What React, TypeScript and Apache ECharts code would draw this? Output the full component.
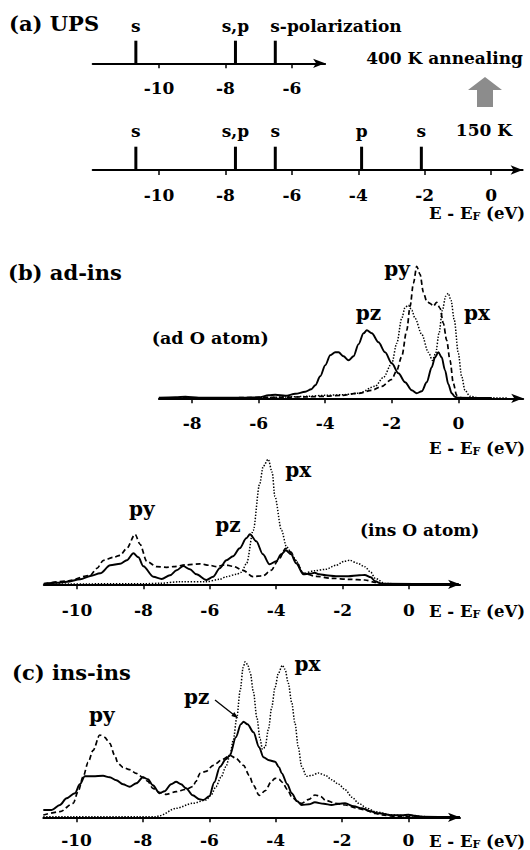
import React, { useEffect, useRef } from 'react';
import * as echarts from 'echarts';

const FONT = '"DejaVu Serif", serif';

// ---------- (a) UPS peak positions (eV) ----------
const upsAnnealE = [-10.7, -7.7, -6.5];
const upsAnnealLabels = ['s', 's,p', 's-polarization'];
const ups150E = [-10.7, -7.7, -6.5, -3.9, -2.1];
const ups150Labels = ['s', 's,p', 's', 'p', 's'];

// ---------- tick labels ----------
const upsTopTicks = [-10, -8, -6];
const upsBottomTicks = [-10, -8, -6, -4, -2, 0];
const adTicks = [-8, -6, -4, -2, 0];
const insTicks = [-10, -8, -6, -4, -2, 0];

// ---------- (b) ad-ins, ad O atom (E, DOS arb. units) ----------
const adPz: [number, number][] = [[-9,0.5],[-8.5,1],[-8.2,1.5],[-7.8,0.5],[-6.5,0.5],[-6,1],[-5.7,3],[-5.5,3.5],[-5.2,2.5],[-4.9,4.5],[-4.6,6.5],[-4.42,9],[-4.3,13],[-4.15,22],[-4.0,33],[-3.85,43],[-3.7,46],[-3.6,46],[-3.45,42],[-3.3,38],[-3.15,42],[-3.0,54],[-2.85,65],[-2.75,68],[-2.6,65],[-2.4,56],[-2.2,46],[-2.0,35],[-1.8,25],[-1.6,16],[-1.4,8],[-1.25,5],[-1.1,7],[-0.95,16],[-0.8,31],[-0.7,41],[-0.6,46],[-0.5,41],[-0.4,28],[-0.3,14],[-0.2,5],[-0.1,1.5],[0,0.5],[1,0.3]];
const adPy: [number, number][] = [[-9,0.5],[-7,0.5],[-5.5,1],[-4.5,1.5],[-4,2],[-3.5,3],[-3,5],[-2.6,8],[-2.3,12],[-2.0,19],[-1.85,28],[-1.7,42],[-1.55,68],[-1.45,92],[-1.35,115],[-1.25,132],[-1.15,124],[-1.05,106],[-0.95,97],[-0.85,95],[-0.75,92],[-0.65,96],[-0.55,90],[-0.45,75],[-0.35,58],[-0.25,38],[-0.15,15],[-0.05,3],[0.1,0.5],[1,0.3]];
const adPx: [number, number][] = [[-9,0.3],[-6,0.5],[-5,1.5],[-4.5,2],[-4,3],[-3.5,3.5],[-3,5],[-2.5,12],[-2.25,21],[-2.0,35],[-1.85,55],[-1.7,80],[-1.6,91],[-1.5,93],[-1.4,88],[-1.3,80],[-1.1,64],[-0.9,46],[-0.78,38],[-0.68,45],[-0.58,65],[-0.48,88],[-0.38,102],[-0.3,105],[-0.22,98],[-0.12,78],[0,45],[0.1,22],[0.2,8],[0.35,2],[0.6,0.5],[1.5,0.3]];

// ---------- (b) ad-ins, ins O atom ----------
const insPz: [number, number][] = [[-11,0.5],[-10.6,1.5],[-10.3,2.6],[-9.9,5],[-9.6,8.3],[-9.3,11],[-9.0,19],[-8.7,20.5],[-8.5,24],[-8.3,31],[-8.15,27],[-8.0,18],[-7.7,7.5],[-7.45,5.3],[-7.2,9],[-7.0,14],[-6.8,18.3],[-6.6,15],[-6.4,10],[-6.1,4.3],[-5.9,7.5],[-5.7,16],[-5.5,24],[-5.3,28],[-5.1,36],[-4.9,46],[-4.79,50],[-4.6,43],[-4.4,30],[-4.2,20],[-4.0,23],[-3.85,30],[-3.71,34],[-3.55,30],[-3.4,21],[-3.18,10],[-3.0,10.5],[-2.84,11.5],[-2.7,10],[-2.5,9],[-2.2,8],[-1.83,8],[-1.5,9],[-1.33,9.3],[-1.15,7],[-1.02,3],[-0.82,0.5],[1.5,0.3]];
const insPy: [number, number][] = [[-11,0.5],[-10.3,3.3],[-9.6,9],[-9.4,16],[-9.2,24],[-8.9,27],[-8.7,29],[-8.5,36],[-8.25,50],[-8.1,40],[-7.9,23],[-7.6,17.6],[-7.3,17],[-7.1,17.6],[-6.7,19.5],[-6.3,20.5],[-6.0,19],[-5.8,17.6],[-5.55,19.5],[-5.3,18],[-5.0,14],[-4.7,7.7],[-4.4,8.5],[-4.15,14],[-3.94,24],[-3.71,36],[-3.55,32],[-3.42,24],[-3.18,11],[-2.8,8],[-2.33,6],[-1.8,5],[-1.33,4.3],[-1.02,2],[-0.82,0.5],[1.5,0.3]];
const insPx: [number, number][] = [[-11,0.3],[-8,0.5],[-7.5,1],[-6.9,2.6],[-6.1,2.6],[-5.7,5],[-5.5,7.6],[-5.2,10],[-5.05,12],[-4.89,21],[-4.69,54],[-4.5,100],[-4.39,118],[-4.24,125],[-4.12,112],[-4.04,88],[-3.84,54],[-3.69,37.6],[-3.55,32],[-3.42,24],[-3.18,11],[-2.84,13.6],[-2.5,15],[-2.2,19],[-1.95,23],[-1.78,24],[-1.55,21],[-1.33,17.6],[-1.15,12],[-1.02,6],[-0.72,0.8],[-0.3,0.5],[1.5,0.3]];

// ---------- (c) ins-ins ----------
const cPz: [number, number][] = [[-11,7.3],[-10.75,7.3],[-10.5,12.3],[-10.3,19],[-10.05,24],[-9.9,33],[-9.75,41],[-9.5,41],[-9.2,41.5],[-9.0,40],[-8.8,37],[-8.6,33],[-8.4,30.6],[-8.2,34],[-8.0,40],[-7.85,38],[-7.7,32],[-7.5,24],[-7.35,26],[-7.15,33],[-7.0,35.6],[-6.85,33],[-6.7,29],[-6.5,22],[-6.3,18],[-6.18,17.3],[-6.0,21],[-5.85,35],[-5.68,50.6],[-5.5,58],[-5.38,62],[-5.2,80],[-5.05,93],[-4.97,95.6],[-4.85,93],[-4.67,85],[-4.5,70],[-4.37,60],[-4.2,57],[-4.02,55.6],[-3.9,50],[-3.82,44],[-3.65,33],[-3.52,24],[-3.35,16],[-3.22,12.3],[-3.0,13],[-2.82,15],[-2.55,13.5],[-2.32,12.3],[-2.1,13.5],[-1.91,14],[-1.65,11],[-1.4,9],[-1.15,6],[-0.9,4],[-0.5,2],[-0.2,2],[0,2.6],[0.2,1.5],[0.4,0.5],[1.55,0.3]];
const cPy: [number, number][] = [[-11,2.3],[-10.5,5.6],[-10.1,14],[-9.95,26],[-9.8,40.6],[-9.65,55],[-9.5,67],[-9.3,82.3],[-9.15,80],[-9.0,74],[-8.85,62],[-8.75,54],[-8.6,50],[-8.4,47.6],[-8.2,44],[-8.0,40],[-7.85,36],[-7.7,29],[-7.5,25],[-7.3,23],[-7.0,25.6],[-6.7,28],[-6.5,30.6],[-6.4,36],[-6.28,44],[-6.1,46],[-5.88,52],[-5.6,58],[-5.38,62],[-5.2,59],[-4.97,52],[-4.8,42],[-4.67,32],[-4.5,22],[-4.3,27],[-4.15,35],[-4.02,39],[-3.9,38],[-3.8,35],[-3.65,28],[-3.52,20.6],[-3.35,16],[-3.22,14],[-3.0,18],[-2.82,22.3],[-2.65,21],[-2.5,17],[-2.2,14],[-1.9,12.3],[-1.6,9.5],[-1.3,7.3],[-1.0,4],[-0.8,2.3],[-0.3,0.6],[1.55,0.3]];
const cPx: [number, number][] = [[-11,0.5],[-7.6,0.5],[-7.5,1.6],[-7.0,9],[-6.5,14],[-6.1,17.3],[-5.95,22],[-5.8,30.6],[-5.65,40],[-5.5,50.6],[-5.38,62],[-5.28,77],[-5.17,100],[-5.07,127],[-4.98,150],[-4.92,155.6],[-4.85,153],[-4.77,145],[-4.67,125],[-4.57,100],[-4.47,78],[-4.4,68],[-4.32,70],[-4.22,88],[-4.12,110],[-4.02,130],[-3.92,144],[-3.8,152],[-3.72,148],[-3.62,134],[-3.52,115],[-3.42,94],[-3.32,70],[-3.22,51],[-3.07,41],[-2.9,42],[-2.72,44.3],[-2.5,42],[-2.32,37.6],[-2.1,33],[-1.91,27.6],[-1.7,20],[-1.5,14],[-1.25,9],[-1.0,5.6],[-0.5,2.3],[0,1.3],[0.7,0.5],[1.55,0.3]];

const SOLID = { color: '#000', width: 1.9, type: 'solid' as const };
const DASHED = { color: '#000', width: 1.7, type: [5, 3] };
const DOTTED = { color: '#000', width: 1.5, type: [1.4, 1.6] };

function xAxis(gridIndex: number, min: number, max: number, ticks: number[], margin: number) {
  return {
    type: 'value', gridIndex, min, max,
    axisLine: { show: true, onZero: false, symbol: ['none', 'arrow'], symbolSize: [7, 12], lineStyle: { color: '#000', width: 2 } },
    axisTick: { show: true, customValues: ticks, length: 5, lineStyle: { color: '#000', width: 1.5 } },
    axisLabel: { show: true, customValues: ticks, margin, fontFamily: FONT, fontWeight: 'bold', fontSize: 17, lineHeight: 16, color: '#000', formatter: (v: number) => String(v) },
    splitLine: { show: false },
  };
}
function yAxis(gridIndex: number, max: number) {
  return { type: 'value', gridIndex, min: 0, max, show: false };
}
function curve(idx: number, data: [number, number][], ls: any) {
  return { type: 'line', xAxisIndex: idx, yAxisIndex: idx, data, showSymbol: false, symbol: 'none', smooth: 0.3, smoothMonotone: 'x', lineStyle: ls, silent: true };
}
function txt(text: string, x: number, y: number, size = 17, align = 'center') {
  return { type: 'text', x, y, silent: true, style: { text, fill: '#000', fontFamily: FONT, fontWeight: 'bold', fontSize: size, align, verticalAlign: 'middle' } };
}
function axisTitle(x: number, y: number) {
  return {
    type: 'text', x, y, silent: true,
    style: {
      text: '{a|E - E}{s|F}{a| (eV)}', align: 'right', verticalAlign: 'middle', fill: '#000',
      rich: {
        a: { fontFamily: FONT, fontWeight: 'bold', fontSize: 16.5, lineHeight: 17, fill: '#000' },
        s: { fontFamily: FONT, fontWeight: 'bold', fontSize: 11, lineHeight: 17, verticalAlign: 'bottom', fill: '#000' },
      },
    },
  };
}

function upsBars(idx: number, es: number[], labels: string[], distance: number) {
  return {
    type: 'bar', xAxisIndex: idx, yAxisIndex: idx, barWidth: 3, silent: true,
    itemStyle: { color: '#000' },
    label: { show: true, position: 'top', distance, formatter: '{b}', fontFamily: FONT, fontWeight: 'bold', fontSize: 17, color: '#000' },
    data: es.map((e, i) => {
      const name = String(labels[i]);
      const item: any = { name, value: [e, 1] };
      if (name.length > 3) item.label = { align: 'left', offset: [-5, 0] };
      return item;
    }),
  };
}

export default function App() {
  const ref = useRef<HTMLDivElement>(null);
  useEffect(() => {
    if (!ref.current) return;
    const chart = echarts.init(ref.current, undefined, { renderer: 'svg' });
    const option: any = {
      animation: false,
      backgroundColor: '#fff',
      textStyle: { fontFamily: FONT, fontWeight: 'bold', color: '#000' },
      grid: [
        { left: 92.7, top: 40.7, width: 232.4, height: 22.6 },
        { left: 92.7, top: 146.7, width: 429.9, height: 23.3 },
        { left: 158.9, top: 258.3, width: 364.3, height: 140 },
        { left: 43.8, top: 444.3, width: 416.3, height: 140 },
        { left: 43.3, top: 657.3, width: 416.7, height: 160 },
      ],
      xAxis: [
        xAxis(0, -12, -5, upsTopTicks, 17),
        xAxis(1, -12, 0.95, upsBottomTicks, 17),
        xAxis(2, -9, 1.95, adTicks, 17),
        xAxis(3, -11, 1.54, insTicks, 18),
        xAxis(4, -11, 1.55, insTicks, 15),
      ],
      yAxis: [yAxis(0, 1), yAxis(1, 1), yAxis(2, 140), yAxis(3, 140), yAxis(4, 160)],
      series: [
        upsBars(0, upsAnnealE, upsAnnealLabels, 6),
        upsBars(1, ups150E, ups150Labels, 7),
        curve(2, adPx, DOTTED), curve(2, adPy, DASHED), curve(2, adPz, SOLID),
        curve(3, insPx, DOTTED), curve(3, insPy, DASHED), curve(3, insPz, SOLID),
        curve(4, cPx, DOTTED), curve(4, cPy, DASHED), curve(4, cPz, SOLID),
      ],
      graphic: [
        txt('(a) UPS', 9, 23, 21, 'left'),
        txt('400 K annealing', 523, 58, 17, 'right'),
        txt('150 K', 512, 130, 17, 'right'),
        { type: 'polygon', silent: true, shape: { points: [[468, 90], [485, 77], [502, 90], [493, 90], [493, 107], [477, 107], [477, 90]] }, style: { fill: '#8c8c8c' } },
        axisTitle(525, 213),
        txt('(b) ad-ins', 8, 272, 21, 'left'),
        txt('py', 397, 269, 20),
        txt('pz', 368.5, 313, 20),
        txt('px', 477, 313, 20),
        txt('(ad O atom)', 151.7, 338, 17.5, 'left'),
        axisTitle(525, 448),
        txt('py', 141.7, 509, 20),
        txt('pz', 228, 525, 20),
        txt('px', 298.3, 470, 20),
        txt('(ins O atom)', 360, 530, 17, 'left'),
        axisTitle(525, 611),
        txt('(c) ins-ins', 12, 672, 21, 'left'),
        txt('py', 101.7, 715, 20),
        txt('pz', 196.7, 697, 20),
        txt('px', 307.5, 664, 20),
        { type: 'line', silent: true, shape: { x1: 215, y1: 700, x2: 234, y2: 715 }, style: { stroke: '#000', lineWidth: 1.3 } },
        { type: 'polygon', silent: true, shape: { points: [[238.3, 718.3], [231.3, 716], [234.3, 712]] }, style: { fill: '#000' } },
        axisTitle(525, 841),
      ],
    };
    chart.setOption(option);
    return () => chart.dispose();
  }, []);
  return <div ref={ref} style={{ position: 'fixed', left: 0, top: 0, width: 530, height: 850, background: '#fff' }} />;
}
